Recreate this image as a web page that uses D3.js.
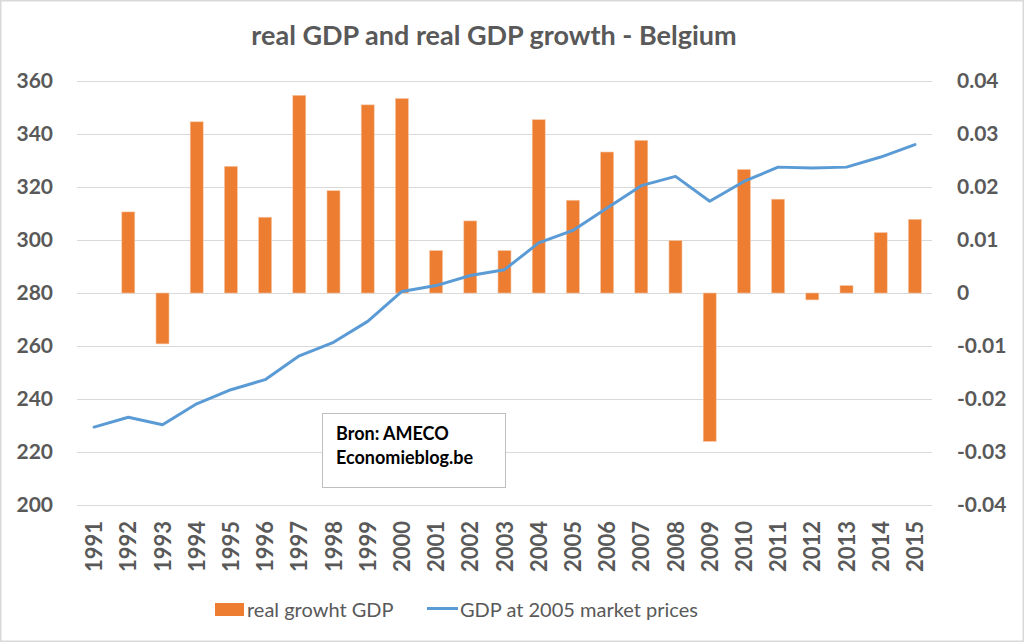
<!DOCTYPE html>
<html><head><meta charset="utf-8">
<script src="https://cdn.jsdelivr.net/npm/d3@7"></script>
<style>
html,body{margin:0;padding:0;background:#fff;}
svg{display:block;font-family:Lato,"Open Sans",sans-serif;}
</style></head>
<body>
<svg id="c" width="1024" height="642"></svg>
<script>
const years = ["1991","1992","1993","1994","1995","1996","1997","1998","1999","2000","2001","2002","2003","2004","2005","2006","2007","2008","2009","2010","2011","2012","2013","2014","2015"];
const growth = [null,0.0153,-0.0096,0.0323,0.0239,0.0143,0.0373,0.0193,0.0355,0.0367,0.0080,0.0136,0.0080,0.0327,0.0175,0.0266,0.0288,0.0099,-0.0280,0.0233,0.0177,-0.0013,0.0014,0.0114,0.0139];
const gdp = [229.4,233.1,230.3,238.2,243.5,247.3,256.3,261.4,269.3,280.6,282.8,286.6,288.8,298.9,303.6,312.1,320.5,324.0,314.6,322.1,327.5,327.2,327.5,331.3,336.0];
const leftTicks = [200,220,240,260,280,300,320,340,360];
const rightTicks = [-0.04,-0.03,-0.02,-0.01,0,0.01,0.02,0.03,0.04];
const title = "real GDP and real GDP growth - Belgium";
const seriesNames = ["real growht GDP","GDP at 2005 market prices"];
const noteLines = ["Bron: AMECO","Economieblog.be"];

const svg = d3.select("#c");
const L=77, R=932, T=81, B=505;
const x = d3.scaleBand().domain(years).range([L,R]).padding(0);
const yL = d3.scaleLinear().domain([200,360]).range([B,T]);
const yR = d3.scaleLinear().domain([-0.04,0.04]).range([B,T]);
const grey="#595959", orange="#ED7D31", blue="#5B9BD5";

// outer border
svg.append("rect").attr("x",0.5).attr("y",0.5).attr("width",1023).attr("height",641)
  .attr("fill","#fff").attr("stroke","#d9d9d9").attr("stroke-width",2);

// title
svg.append("text").attr("x",494).attr("y",45).attr("text-anchor","middle")
  .attr("font-size",27).attr("font-weight","bold").attr("fill",grey).text(title);

// gridlines
svg.append("g").selectAll("line").data(leftTicks).join("line")
  .attr("x1",L).attr("x2",R).attr("y1",d=>Math.round(yL(d))+0.5).attr("y2",d=>Math.round(yL(d))+0.5)
  .attr("stroke","#d9d9d9").attr("stroke-width",1);

// left axis
const axL = svg.append("g").attr("transform",`translate(${L-24},0)`)
  .call(d3.axisLeft(yL).tickValues(leftTicks).tickSize(0).tickPadding(0));
axL.select(".domain").remove();
axL.selectAll("text").attr("font-size",21).attr("font-weight","bold").attr("fill",grey)
  .attr("font-family","Lato,sans-serif");

// right axis
const fmtR = d => d===0 ? "0" : String(+d.toFixed(2));
const axR = svg.append("g").attr("transform",`translate(${R+25},0)`)
  .call(d3.axisRight(yR).tickValues(rightTicks).tickSize(0).tickPadding(0).tickFormat(fmtR));
axR.select(".domain").remove();
axR.selectAll("text").attr("font-size",21).attr("font-weight","bold").attr("fill",grey)
  .attr("font-family","Lato,sans-serif");

// bars
const bw = x.bandwidth()*0.38;
svg.append("g").selectAll("rect").data(years.map((y,i)=>({y,v:growth[i]})).filter(d=>d.v!==null)).join("rect")
  .attr("x",d=>x(d.y)+x.bandwidth()/2-bw/2)
  .attr("width",bw)
  .attr("y",d=>Math.min(yR(d.v),yR(0)))
  .attr("height",d=>Math.abs(yR(d.v)-yR(0)))
  .attr("fill",orange).attr("stroke","#f6c7a6").attr("stroke-width",0.6);

// line
const line = d3.line().x((d,i)=>x(years[i])+x.bandwidth()/2).y(d=>yL(d));
svg.append("path").datum(gdp).attr("d",line).attr("fill","none")
  .attr("stroke",blue).attr("stroke-width",3).attr("stroke-linejoin","round").attr("stroke-linecap","round");

// x labels
svg.append("g").selectAll("text").data(years).join("text")
  .attr("transform",d=>`translate(${x(d)+x.bandwidth()/2+8},521) rotate(-90)`)
  .attr("text-anchor","end").attr("font-size",22).attr("font-weight","bold").attr("fill",grey)
  .text(d=>d);

// note box
svg.append("rect").attr("x",322.5).attr("y",413.5).attr("width",183).attr("height",74)
  .attr("fill","#fff").attr("stroke","#bfbfbf").attr("stroke-width",1);
svg.append("g").selectAll("text").data(noteLines).join("text")
  .attr("x",336).attr("y",(d,i)=>440+i*24).attr("font-size",18).attr("font-weight","bold").attr("fill","#000")
  .text(d=>d);

// legend
svg.append("rect").attr("x",215).attr("y",603).attr("width",29).attr("height",13).attr("fill",orange);
svg.append("text").attr("x",247).attr("y",617).attr("font-size",20).attr("fill",grey).text(seriesNames[0]);
svg.append("line").attr("x1",427).attr("x2",458).attr("y1",608.5).attr("y2",608.5).attr("stroke",blue).attr("stroke-width",3);
svg.append("text").attr("x",460).attr("y",617).attr("font-size",20).attr("fill",grey).text(seriesNames[1]);
</script>
</body></html>
